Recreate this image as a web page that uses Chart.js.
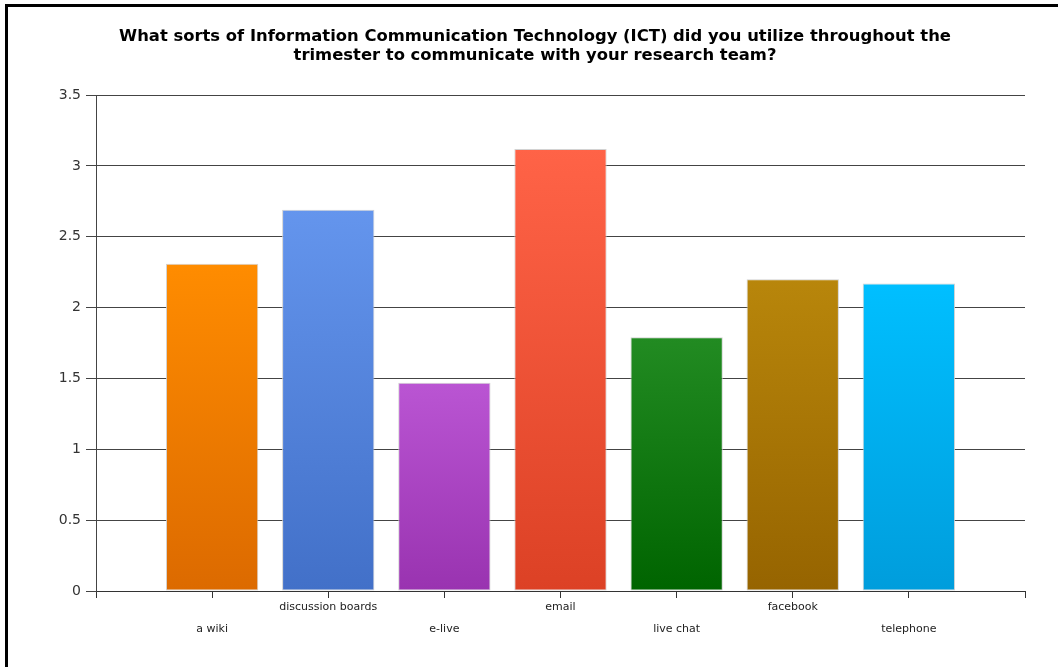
<!DOCTYPE html>
<html>
<head>
<meta charset="utf-8">
<title>ICT usage</title>
<script src="https://cdn.jsdelivr.net/npm/chart.js@4/dist/chart.umd.min.js"></script>
<style>
  html, body { margin: 0; padding: 0; background: #fff; overflow: hidden; }
  #wrap { position: relative; width: 1058px; height: 667px; }
  #frame {
    position: absolute; left: 5px; top: 4px; right: 0; bottom: 0;
    border-left: 3px solid #000; border-top: 3px solid #000;
    pointer-events: none;
  }
</style>
</head>
<body>
<div id="wrap">
  <canvas id="chart" width="1058" height="667"></canvas>
  <div id="frame"></div>
</div>
<script>
const titleLines = [
  "What sorts of Information Communication Technology (ICT) did you utilize throughout the",
  "trimester to communicate with your research team?",
];
const categories = ["a wiki", "discussion boards", "e-live", "email", "live chat", "facebook", "telephone"];
const averages = [2.31, 2.69, 1.47, 3.12, 1.79, 2.2, 2.17];
const yTicks = [0, 0.5, 1, 1.5, 2, 2.5, 3, 3.5];

// top / bottom colour of each bar's gradient
const topColors = ["#ff8c00", "#6495ed", "#ba55d3", "#ff6347", "#228b22", "#b8860b", "#00bfff"];
const bottomColors = ["#dc6a00", "#4270c8", "#9933b0", "#dc4125", "#006400", "#966400", "#009ddc"];

function barGradient(ctx) {
  const chart = ctx.chart;
  if (!chart.chartArea || ctx.dataIndex === undefined) return topColors[0];
  const i = ctx.dataIndex;
  const y = chart.scales.y;
  const g = chart.ctx.createLinearGradient(0, y.getPixelForValue(averages[i]), 0, y.getPixelForValue(0));
  g.addColorStop(0, topColors[i]);
  g.addColorStop(1, bottomColors[i]);
  return g;
}

const ctx = document.getElementById("chart").getContext("2d");
new Chart(ctx, {
  type: "bar",
  data: {
    datasets: [
      {
        data: categories.map((c, i) => ({ x: i + 1, y: averages[i] })),
        backgroundColor: barGradient,
        borderColor: "rgba(205, 205, 205, 0.9)",
        borderWidth: 1,
        borderSkipped: false,
        barPercentage: 0.795,
        categoryPercentage: 1,
      },
    ],
  },
  options: {
    responsive: false,
    animation: false,
    layout: { padding: { left: 45, right: 33, top: 10, bottom: 28 } },
    scales: {
      x: {
        type: "linear",
        min: 0,
        max: categories.length + 1,
        offset: false,
        grid: {
          offset: false,
          drawOnChartArea: false,
          drawTicks: true,
          tickLength: 7,
          color: "#333",
        },
        border: { display: true, color: "#333" },
        ticks: {
          stepSize: 1,
          autoSkip: false,
          maxRotation: 0,
          minRotation: 0,
          padding: 4,
          color: "#222",
          font: { family: "DejaVu Sans", size: 11, lineHeight: 1 },
          callback: (v) => {
            const i = v - 1;
            if (i < 0 || i >= categories.length) return "";
            return i % 2 === 0 ? ["", "", categories[i]] : [categories[i]];
          },
        },
      },
      y: {
        min: 0,
        max: 3.5,
        afterFit: (axis) => { axis.width = 51; },
        afterBuildTicks: (axis) => { axis.ticks = yTicks.map((v) => ({ value: v })); },
        grid: { color: "#444", tickLength: 10, drawTicks: true },
        border: { display: true, color: "#444" },
        ticks: {
          padding: 5,
          color: "#333",
          font: { family: "DejaVu Sans", size: 14 },
          callback: (v) => String(v),
        },
      },
    },
    plugins: {
      legend: { display: false },
      tooltip: { enabled: false },
      title: {
        display: true,
        text: titleLines,
        color: "#000",
        font: { family: "DejaVu Sans", size: 16.4, weight: "bold", lineHeight: 1.16 },
        padding: { top: 17, bottom: 30 },
      },
    },
  },
});
</script>
</body>
</html>
